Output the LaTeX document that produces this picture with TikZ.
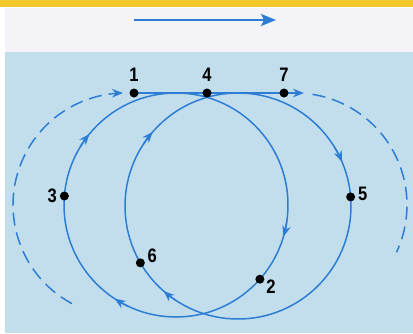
\documentclass[tikz,border=0pt]{standalone}
\usepackage{fontspec}
\usetikzlibrary{positioning}
\usetikzlibrary{arrows.meta}
\newfontfamily\numfont[FakeStretch=0.85]{Liberation Sans}
\newcommand{\arrowat}[3]{\draw[headarc] (#1) ++(#2+6:#3) arc[start angle=#2+6, end angle=#2-2, radius=#3];}
\tikzstyle{orbit} = [draw=trail, line width=1.5pt]
\tikzstyle{ghost} = [orbit, dash pattern=on 13pt off 7pt]
\tikzstyle{headarc} = [draw=trail, line width=1.5pt, -{Stealth[length=11pt, width=8.5pt]}]
\tikzstyle{spot} = [circle, fill=black, inner sep=0pt, minimum size=9pt]
\tikzstyle{num} = [inner sep=0pt, font=\numfont\bfseries\fontsize{19.5}{20}\selectfont]
\definecolor{trail}{RGB}{45,125,212}
\definecolor{sheet}{RGB}{194,222,236}
\definecolor{paper}{RGB}{244,243,248}
\definecolor{band}{RGB}{244,200,40}

\begin{document}
\begin{tikzpicture}[x=1pt, y=1pt, node distance=2.5pt]
	\useasboundingbox (0,0) rectangle (413,333);
	\fill[white] (0,0) rectangle (413,333);
	\fill[paper] (5,281) rectangle (413,325);
	\fill[sheet] (5,0) rectangle (413,281);
	\fill[band] (0,326) rectangle (413,333);

	\coordinate (go0) at (134,313);
	\coordinate (go1) at (276,313);
	\draw[trail, line width=2.4pt, -{Stealth[length=15pt, width=12pt, inset=3pt]}] (go0) -- (go1);

	\coordinate (cA) at (176,128);
	\coordinate (cB) at (238,127);
	\coordinate (cL) at (125,128);
	\coordinate (cR) at (295,128);
	\coordinate (p1) at (134,240);
	\coordinate (p4) at (207,240);
	\coordinate (p7) at (284,240);
	\coordinate (lineend) at (304,240);
	\path (cA) ++(-41.5:112pt) coordinate (p2);
	\path (cA) ++(175.4:112pt) coordinate (p3);
	\path (cB) ++(4.6:113pt) coordinate (p5);
	\path (cB) ++(210.2:113pt) coordinate (p6);

	\draw[orbit] (cA) circle [radius=112pt];
	\draw[orbit] (cB) circle [radius=113pt];
	\draw[ghost] (cL) ++(241.7:112pt) arc[start angle=241.7, end angle=97, radius=112pt];
	\draw[headarc] (cL) ++(97:112pt) arc[start angle=97, end angle=91, radius=112pt];
	\draw[ghost] (cR) ++(81:112pt) arc[start angle=81, end angle=-25, radius=112pt];
	\draw[headarc] (p1) -- (lineend);

	\arrowat{cA}{142.6}{112pt}
	\arrowat{cA}{238.7}{112pt}
	\arrowat{cA}{-14.4}{112pt}
	\arrowat{cB}{25}{113pt}
	\arrowat{cB}{230.8}{113pt}
	\arrowat{cB}{141}{113pt}

	\node (n1) [spot] at (p1) {};
	\node (n2) [spot] at (p2) {};
	\node (n3) [spot] at (p3) {};
	\node (n4) [spot] at (p4) {};
	\node (n5) [spot] at (p5) {};
	\node (n6) [spot] at (p6) {};
	\node (n7) [spot] at (p7) {};

	\node (l1) [num, above=7pt of n1] {1};
	\node (l4) [num, above=7pt of n4] {4};
	\node (l7) [num, above=7pt of n7] {7};
	\node (l3) [num, left=of n3] {3};
	\node (l5) [num, right=of n5, yshift=3pt] {5};
	\node (l6) [num, right=of n6.east, anchor=south west] {6};
	\node (l2) [num, right=1.5pt of n2.east, anchor=north west] {2};
\end{tikzpicture}
\end{document}
